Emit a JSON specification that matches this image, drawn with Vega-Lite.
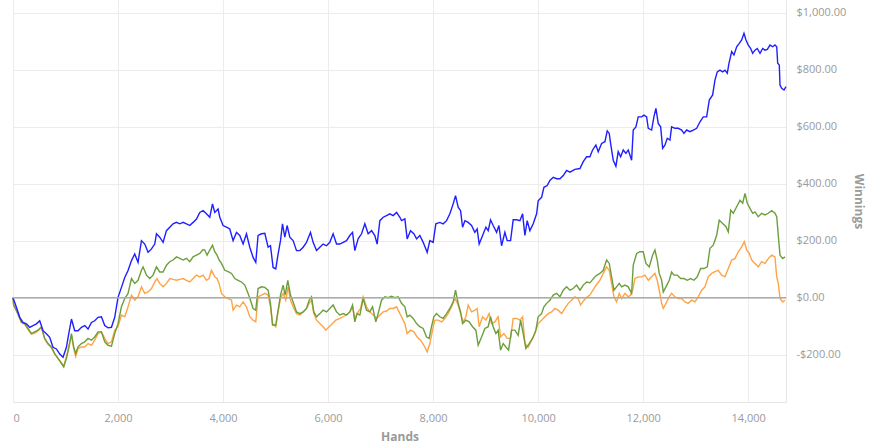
{
"$schema": "https://vega.github.io/schema/vega-lite/v6.json",
"width": 773, "height": 402,
"autosize": {"type": "none"},
"padding": {"left": 13, "top": 0, "right": 89, "bottom": 43},
"config": {"view": {"stroke": null}, "font": "Open Sans"},
"datasets": {
"orange": [{"h":0,"w":0},{"h":13,"w":-26},{"h":95,"w":-59},{"h":160,"w":-88},{"h":223,"w":-94},{"h":286,"w":-112},{"h":351,"w":-128},{"h":413,"w":-124},{"h":476,"w":-117},{"h":541,"w":-105},{"h":604,"w":-146},{"h":667,"w":-164},{"h":732,"w":-176},{"h":794,"w":-198},{"h":857,"w":-213},{"h":922,"w":-228},{"h":966,"w":-240},{"h":1017,"w":-207},{"h":1067,"w":-167},{"h":1113,"w":-132},{"h":1156,"w":-179},{"h":1194,"w":-207},{"h":1238,"w":-179},{"h":1303,"w":-173},{"h":1366,"w":-173},{"h":1429,"w":-161},{"h":1494,"w":-167},{"h":1556,"w":-149},{"h":1619,"w":-126},{"h":1684,"w":-120},{"h":1747,"w":-143},{"h":1810,"w":-161},{"h":1875,"w":-155},{"h":1937,"w":-114},{"h":2000,"w":-102},{"h":2065,"w":-61},{"h":2128,"w":-67},{"h":2191,"w":-32},{"h":2256,"w":9},{"h":2318,"w":-9},{"h":2381,"w":3},{"h":2446,"w":38},{"h":2509,"w":15},{"h":2572,"w":20},{"h":2637,"w":32},{"h":2699,"w":55},{"h":2743,"w":67},{"h":2794,"w":50},{"h":2858,"w":38},{"h":2922,"w":50},{"h":2985,"w":67},{"h":3048,"w":64},{"h":3113,"w":61},{"h":3176,"w":64},{"h":3239,"w":67},{"h":3303,"w":61},{"h":3366,"w":55},{"h":3429,"w":67},{"h":3494,"w":79},{"h":3557,"w":73},{"h":3620,"w":79},{"h":3684,"w":61},{"h":3734,"w":67},{"h":3779,"w":96},{"h":3842,"w":73},{"h":3886,"w":67},{"h":3924,"w":50},{"h":3970,"w":15},{"h":4033,"w":3},{"h":4096,"w":-3},{"h":4161,"w":-9},{"h":4191,"w":-44},{"h":4256,"w":-26},{"h":4318,"w":-32},{"h":4382,"w":-15},{"h":4446,"w":-32},{"h":4509,"w":-67},{"h":4572,"w":-79},{"h":4623,"w":-85},{"h":4667,"w":3},{"h":4732,"w":9},{"h":4795,"w":15},{"h":4858,"w":9},{"h":4903,"w":-32},{"h":4942,"w":-91},{"h":5004,"w":-102},{"h":5048,"w":-50},{"h":5094,"w":-3},{"h":5144,"w":15},{"h":5195,"w":-9},{"h":5239,"w":38},{"h":5284,"w":-9},{"h":5334,"w":-32},{"h":5399,"w":-56},{"h":5462,"w":-61},{"h":5525,"w":-50},{"h":5589,"w":-38},{"h":5639,"w":-20},{"h":5684,"w":-9},{"h":5728,"w":-56},{"h":5780,"w":-79},{"h":5843,"w":-91},{"h":5906,"w":-102},{"h":5957,"w":-114},{"h":6020,"w":-102},{"h":6085,"w":-91},{"h":6147,"w":-79},{"h":6224,"w":-73},{"h":6287,"w":-67},{"h":6351,"w":-61},{"h":6414,"w":-50},{"h":6466,"w":-32},{"h":6509,"w":-73},{"h":6572,"w":-50},{"h":6618,"w":-38},{"h":6668,"w":3},{"h":6732,"w":-32},{"h":6795,"w":-50},{"h":6858,"w":-61},{"h":6923,"w":-73},{"h":6986,"w":-61},{"h":7049,"w":-50},{"h":7113,"w":-47},{"h":7176,"w":-38},{"h":7239,"w":-38},{"h":7304,"w":-32},{"h":7367,"w":-56},{"h":7399,"w":-67},{"h":7462,"w":-91},{"h":7506,"w":-126},{"h":7570,"w":-114},{"h":7633,"w":-120},{"h":7696,"w":-138},{"h":7761,"w":-149},{"h":7824,"w":-167},{"h":7887,"w":-190},{"h":7938,"w":-161},{"h":7989,"w":-114},{"h":8033,"w":-79},{"h":8096,"w":-79},{"h":8161,"w":-85},{"h":8224,"w":-73},{"h":8287,"w":-56},{"h":8352,"w":-32},{"h":8414,"w":-3},{"h":8466,"w":-20},{"h":8523,"w":-56},{"h":8572,"w":-85},{"h":8624,"w":-67},{"h":8668,"w":-26},{"h":8732,"w":-50},{"h":8795,"w":-44},{"h":8839,"w":-38},{"h":8877,"w":-102},{"h":8942,"w":-67},{"h":9005,"w":-79},{"h":9068,"w":-56},{"h":9113,"w":-91},{"h":9176,"w":-85},{"h":9239,"w":-67},{"h":9285,"w":-138},{"h":9348,"w":-126},{"h":9411,"w":-143},{"h":9475,"w":-143},{"h":9525,"w":-73},{"h":9590,"w":-73},{"h":9653,"w":-79},{"h":9704,"w":-67},{"h":9748,"w":-161},{"h":9811,"w":-173},{"h":9876,"w":-149},{"h":9938,"w":-126},{"h":10001,"w":-91},{"h":10066,"w":-79},{"h":10129,"w":-67},{"h":10192,"w":-56},{"h":10256,"w":-50},{"h":10319,"w":-38},{"h":10382,"w":-44},{"h":10447,"w":-56},{"h":10510,"w":-38},{"h":10573,"w":-20},{"h":10637,"w":-9},{"h":10700,"w":3},{"h":10763,"w":-3},{"h":10809,"w":-26},{"h":10872,"w":-9},{"h":10935,"w":3},{"h":10986,"w":9},{"h":11090,"w":40},{"h":11176,"w":61},{"h":11240,"w":85},{"h":11304,"w":108},{"h":11354,"w":96},{"h":11399,"w":50},{"h":11443,"w":3},{"h":11494,"w":-15},{"h":11544,"w":15},{"h":11590,"w":-3},{"h":11653,"w":15},{"h":11716,"w":3},{"h":11761,"w":9},{"h":11799,"w":26},{"h":11843,"w":67},{"h":11906,"w":73},{"h":11971,"w":73},{"h":12034,"w":79},{"h":12097,"w":61},{"h":12161,"w":73},{"h":12224,"w":85},{"h":12268,"w":61},{"h":12306,"w":26},{"h":12352,"w":-20},{"h":12383,"w":-38},{"h":12434,"w":-20},{"h":12497,"w":3},{"h":12542,"w":15},{"h":12605,"w":3},{"h":12668,"w":-3},{"h":12733,"w":-3},{"h":12796,"w":-15},{"h":12859,"w":-20},{"h":12923,"w":-9},{"h":12986,"w":-15},{"h":13049,"w":3},{"h":13114,"w":26},{"h":13177,"w":38},{"h":13240,"w":73},{"h":13304,"w":85},{"h":13367,"w":91},{"h":13430,"w":96},{"h":13494,"w":79},{"h":13558,"w":73},{"h":13621,"w":102},{"h":13686,"w":132},{"h":13748,"w":137},{"h":13811,"w":161},{"h":13876,"w":178},{"h":13926,"w":196},{"h":13971,"w":167},{"h":14021,"w":155},{"h":14067,"w":132},{"h":14129,"w":120},{"h":14192,"w":108},{"h":14257,"w":126},{"h":14320,"w":120},{"h":14383,"w":137},{"h":14448,"w":149},{"h":14510,"w":143},{"h":14543,"w":73},{"h":14573,"w":50},{"h":14606,"w":-3},{"h":14657,"w":-15},{"h":14701,"w":-9}],
"green": [{"h":0,"w":0},{"h":13,"w":-26},{"h":95,"w":-56},{"h":160,"w":-85},{"h":223,"w":-91},{"h":286,"w":-108},{"h":351,"w":-126},{"h":413,"w":-120},{"h":476,"w":-114},{"h":541,"w":-102},{"h":604,"w":-143},{"h":667,"w":-161},{"h":732,"w":-173},{"h":794,"w":-196},{"h":857,"w":-213},{"h":922,"w":-231},{"h":966,"w":-243},{"h":1017,"w":-213},{"h":1067,"w":-173},{"h":1113,"w":-126},{"h":1156,"w":-173},{"h":1194,"w":-196},{"h":1238,"w":-173},{"h":1303,"w":-161},{"h":1366,"w":-155},{"h":1429,"w":-143},{"h":1494,"w":-149},{"h":1556,"w":-138},{"h":1619,"w":-120},{"h":1684,"w":-120},{"h":1747,"w":-155},{"h":1810,"w":-167},{"h":1875,"w":-170},{"h":1937,"w":-126},{"h":2000,"w":-91},{"h":2065,"w":-32},{"h":2128,"w":-3},{"h":2191,"w":15},{"h":2256,"w":67},{"h":2318,"w":50},{"h":2381,"w":61},{"h":2446,"w":96},{"h":2477,"w":108},{"h":2541,"w":79},{"h":2604,"w":67},{"h":2667,"w":79},{"h":2732,"w":108},{"h":2794,"w":90},{"h":2858,"w":90},{"h":2922,"w":114},{"h":2985,"w":126},{"h":3048,"w":132},{"h":3113,"w":143},{"h":3176,"w":138},{"h":3239,"w":132},{"h":3303,"w":138},{"h":3366,"w":126},{"h":3429,"w":143},{"h":3494,"w":149},{"h":3557,"w":155},{"h":3620,"w":169},{"h":3652,"w":167},{"h":3696,"w":149},{"h":3747,"w":167},{"h":3799,"w":184},{"h":3842,"w":161},{"h":3886,"w":149},{"h":3924,"w":132},{"h":3970,"w":120},{"h":4033,"w":96},{"h":4096,"w":91},{"h":4161,"w":85},{"h":4223,"w":67},{"h":4286,"w":61},{"h":4351,"w":55},{"h":4414,"w":44},{"h":4477,"w":15},{"h":4522,"w":-9},{"h":4572,"w":-38},{"h":4623,"w":-44},{"h":4667,"w":32},{"h":4732,"w":38},{"h":4795,"w":36},{"h":4858,"w":26},{"h":4903,"w":-20},{"h":4942,"w":-96},{"h":5004,"w":-96},{"h":5048,"w":-44},{"h":5094,"w":9},{"h":5144,"w":44},{"h":5182,"w":9},{"h":5233,"w":61},{"h":5284,"w":9},{"h":5334,"w":-15},{"h":5399,"w":-50},{"h":5462,"w":-56},{"h":5525,"w":-50},{"h":5589,"w":-38},{"h":5639,"w":-9},{"h":5684,"w":3},{"h":5728,"w":-50},{"h":5780,"w":-67},{"h":5843,"w":-56},{"h":5906,"w":-44},{"h":5970,"w":-50},{"h":6033,"w":-38},{"h":6096,"w":-26},{"h":6161,"w":-50},{"h":6224,"w":-61},{"h":6287,"w":-56},{"h":6351,"w":-61},{"h":6414,"w":-50},{"h":6466,"w":-26},{"h":6509,"w":-85},{"h":6553,"w":-56},{"h":6605,"w":-61},{"h":6668,"w":-3},{"h":6732,"w":-44},{"h":6795,"w":-50},{"h":6847,"w":-32},{"h":6909,"w":-85},{"h":6953,"w":-56},{"h":7018,"w":-9},{"h":7081,"w":3},{"h":7144,"w":0},{"h":7208,"w":5},{"h":7271,"w":0},{"h":7334,"w":3},{"h":7399,"w":-20},{"h":7462,"w":-32},{"h":7506,"w":-67},{"h":7557,"w":-61},{"h":7620,"w":-73},{"h":7685,"w":-91},{"h":7747,"w":-102},{"h":7811,"w":-108},{"h":7875,"w":-138},{"h":7925,"w":-143},{"h":7970,"w":-102},{"h":8014,"w":-67},{"h":8066,"w":-56},{"h":8128,"w":-67},{"h":8191,"w":-73},{"h":8256,"w":-56},{"h":8319,"w":-38},{"h":8382,"w":-15},{"h":8427,"w":26},{"h":8477,"w":-20},{"h":8523,"w":-50},{"h":8561,"w":-91},{"h":8624,"w":-79},{"h":8687,"w":-85},{"h":8751,"w":-102},{"h":8814,"w":-114},{"h":8858,"w":-167},{"h":8923,"w":-138},{"h":8986,"w":-108},{"h":9049,"w":-102},{"h":9094,"w":-67},{"h":9144,"w":-102},{"h":9195,"w":-126},{"h":9239,"w":-114},{"h":9285,"w":-184},{"h":9335,"w":-161},{"h":9386,"w":-173},{"h":9437,"w":-184},{"h":9494,"w":-114},{"h":9557,"w":-114},{"h":9620,"w":-132},{"h":9666,"w":-79},{"h":9716,"w":-126},{"h":9767,"w":-178},{"h":9830,"w":-161},{"h":9894,"w":-143},{"h":9957,"w":-114},{"h":10001,"w":-67},{"h":10066,"w":-56},{"h":10110,"w":-32},{"h":10161,"w":-20},{"h":10224,"w":-9},{"h":10287,"w":9},{"h":10352,"w":15},{"h":10415,"w":3},{"h":10478,"w":26},{"h":10542,"w":38},{"h":10605,"w":26},{"h":10668,"w":32},{"h":10733,"w":44},{"h":10796,"w":26},{"h":10859,"w":44},{"h":10923,"w":55},{"h":10986,"w":52},{"h":11090,"w":75},{"h":11176,"w":85},{"h":11240,"w":96},{"h":11304,"w":132},{"h":11354,"w":120},{"h":11399,"w":73},{"h":11443,"w":26},{"h":11494,"w":38},{"h":11544,"w":50},{"h":11590,"w":38},{"h":11653,"w":44},{"h":11716,"w":38},{"h":11780,"w":15},{"h":11811,"w":114},{"h":11876,"w":155},{"h":11938,"w":161},{"h":12002,"w":161},{"h":12053,"w":120},{"h":12116,"w":108},{"h":12180,"w":149},{"h":12224,"w":167},{"h":12268,"w":132},{"h":12306,"w":85},{"h":12352,"w":61},{"h":12383,"w":20},{"h":12434,"w":38},{"h":12497,"w":61},{"h":12542,"w":90},{"h":12586,"w":79},{"h":12649,"w":79},{"h":12714,"w":67},{"h":12777,"w":67},{"h":12840,"w":61},{"h":12904,"w":67},{"h":12967,"w":61},{"h":13030,"w":73},{"h":13095,"w":102},{"h":13158,"w":102},{"h":13221,"w":108},{"h":13272,"w":173},{"h":13335,"w":184},{"h":13400,"w":219},{"h":13449,"w":272},{"h":13514,"w":260},{"h":13577,"w":249},{"h":13621,"w":231},{"h":13667,"w":307},{"h":13716,"w":296},{"h":13781,"w":319},{"h":13844,"w":342},{"h":13895,"w":331},{"h":13939,"w":366},{"h":13983,"w":331},{"h":14034,"w":313},{"h":14086,"w":296},{"h":14129,"w":301},{"h":14192,"w":284},{"h":14257,"w":296},{"h":14320,"w":290},{"h":14383,"w":296},{"h":14448,"w":305},{"h":14510,"w":296},{"h":14543,"w":284},{"h":14573,"w":219},{"h":14606,"w":149},{"h":14657,"w":137},{"h":14701,"w":143}],
"blue": [{"h":0,"w":0},{"h":65,"w":-34},{"h":128,"w":-69},{"h":190,"w":-87},{"h":255,"w":-92},{"h":318,"w":-104},{"h":381,"w":-98},{"h":446,"w":-92},{"h":509,"w":-81},{"h":572,"w":-116},{"h":636,"w":-127},{"h":699,"w":-139},{"h":762,"w":-174},{"h":827,"w":-180},{"h":890,"w":-198},{"h":953,"w":-209},{"h":1017,"w":-174},{"h":1061,"w":-127},{"h":1113,"w":-75},{"h":1175,"w":-116},{"h":1238,"w":-116},{"h":1303,"w":-104},{"h":1366,"w":-98},{"h":1429,"w":-110},{"h":1494,"w":-87},{"h":1556,"w":-81},{"h":1619,"w":-69},{"h":1684,"w":-67},{"h":1747,"w":-98},{"h":1810,"w":-106},{"h":1875,"w":-104},{"h":1937,"w":-69},{"h":2000,"w":1},{"h":2065,"w":36},{"h":2128,"w":71},{"h":2191,"w":95},{"h":2256,"w":130},{"h":2318,"w":153},{"h":2381,"w":124},{"h":2446,"w":200},{"h":2509,"w":188},{"h":2572,"w":159},{"h":2637,"w":171},{"h":2699,"w":188},{"h":2732,"w":224},{"h":2794,"w":212},{"h":2858,"w":194},{"h":2922,"w":235},{"h":2985,"w":247},{"h":3048,"w":259},{"h":3113,"w":264},{"h":3176,"w":259},{"h":3239,"w":264},{"h":3303,"w":259},{"h":3366,"w":253},{"h":3429,"w":264},{"h":3494,"w":276},{"h":3557,"w":299},{"h":3620,"w":305},{"h":3684,"w":294},{"h":3747,"w":282},{"h":3799,"w":329},{"h":3842,"w":299},{"h":3905,"w":311},{"h":3938,"w":282},{"h":4001,"w":253},{"h":4065,"w":247},{"h":4128,"w":241},{"h":4191,"w":200},{"h":4256,"w":229},{"h":4318,"w":218},{"h":4382,"w":188},{"h":4446,"w":224},{"h":4509,"w":177},{"h":4572,"w":141},{"h":4623,"w":124},{"h":4667,"w":218},{"h":4732,"w":224},{"h":4795,"w":226},{"h":4858,"w":177},{"h":4903,"w":182},{"h":4953,"w":106},{"h":5004,"w":101},{"h":5048,"w":153},{"h":5094,"w":200},{"h":5132,"w":259},{"h":5176,"w":212},{"h":5220,"w":253},{"h":5271,"w":212},{"h":5334,"w":200},{"h":5399,"w":165},{"h":5462,"w":165},{"h":5525,"w":177},{"h":5589,"w":194},{"h":5665,"w":229},{"h":5715,"w":194},{"h":5780,"w":165},{"h":5843,"w":177},{"h":5906,"w":188},{"h":5970,"w":182},{"h":6033,"w":194},{"h":6096,"w":224},{"h":6161,"w":188},{"h":6224,"w":188},{"h":6287,"w":194},{"h":6351,"w":200},{"h":6414,"w":218},{"h":6466,"w":229},{"h":6509,"w":165},{"h":6572,"w":206},{"h":6637,"w":224},{"h":6700,"w":259},{"h":6763,"w":224},{"h":6828,"w":235},{"h":6890,"w":218},{"h":6934,"w":188},{"h":6986,"w":270},{"h":7049,"w":282},{"h":7113,"w":288},{"h":7176,"w":294},{"h":7239,"w":288},{"h":7304,"w":299},{"h":7367,"w":282},{"h":7399,"w":270},{"h":7462,"w":276},{"h":7506,"w":206},{"h":7570,"w":235},{"h":7633,"w":224},{"h":7685,"w":206},{"h":7747,"w":218},{"h":7811,"w":194},{"h":7887,"w":159},{"h":7938,"w":200},{"h":8001,"w":194},{"h":8052,"w":259},{"h":8128,"w":264},{"h":8191,"w":259},{"h":8256,"w":270},{"h":8319,"w":294},{"h":8382,"w":329},{"h":8427,"w":358},{"h":8477,"w":317},{"h":8523,"w":305},{"h":8561,"w":247},{"h":8605,"w":270},{"h":8668,"w":264},{"h":8732,"w":253},{"h":8795,"w":229},{"h":8839,"w":241},{"h":8877,"w":188},{"h":8942,"w":218},{"h":9005,"w":247},{"h":9049,"w":235},{"h":9094,"w":273},{"h":9144,"w":253},{"h":9209,"w":229},{"h":9253,"w":253},{"h":9304,"w":182},{"h":9367,"w":229},{"h":9411,"w":200},{"h":9475,"w":200},{"h":9525,"w":273},{"h":9590,"w":273},{"h":9653,"w":270},{"h":9704,"w":294},{"h":9748,"w":218},{"h":9792,"w":270},{"h":9843,"w":235},{"h":9906,"w":259},{"h":9971,"w":294},{"h":10001,"w":340},{"h":10066,"w":352},{"h":10110,"w":387},{"h":10173,"w":393},{"h":10224,"w":411},{"h":10287,"w":422},{"h":10352,"w":417},{"h":10415,"w":417},{"h":10478,"w":428},{"h":10542,"w":446},{"h":10605,"w":440},{"h":10700,"w":450},{"h":10796,"w":453},{"h":10859,"w":477},{"h":10923,"w":494},{"h":10986,"w":494},{"h":11037,"w":518},{"h":11100,"w":535},{"h":11144,"w":512},{"h":11209,"w":541},{"h":11272,"w":547},{"h":11316,"w":585},{"h":11354,"w":576},{"h":11380,"w":541},{"h":11430,"w":482},{"h":11481,"w":461},{"h":11525,"w":512},{"h":11571,"w":494},{"h":11621,"w":518},{"h":11672,"w":506},{"h":11716,"w":518},{"h":11780,"w":482},{"h":11811,"w":588},{"h":11862,"w":599},{"h":11906,"w":634},{"h":11971,"w":634},{"h":12015,"w":640},{"h":12066,"w":634},{"h":12097,"w":594},{"h":12161,"w":588},{"h":12205,"w":634},{"h":12243,"w":664},{"h":12287,"w":611},{"h":12333,"w":599},{"h":12371,"w":524},{"h":12414,"w":535},{"h":12459,"w":559},{"h":12510,"w":553},{"h":12542,"w":599},{"h":12605,"w":594},{"h":12668,"w":594},{"h":12733,"w":588},{"h":12777,"w":576},{"h":12828,"w":588},{"h":12891,"w":582},{"h":12954,"w":588},{"h":13019,"w":594},{"h":13082,"w":617},{"h":13145,"w":634},{"h":13209,"w":634},{"h":13259,"w":693},{"h":13323,"w":711},{"h":13367,"w":763},{"h":13411,"w":792},{"h":13462,"w":798},{"h":13514,"w":792},{"h":13558,"w":798},{"h":13602,"w":787},{"h":13634,"w":822},{"h":13686,"w":863},{"h":13729,"w":851},{"h":13781,"w":880},{"h":13830,"w":892},{"h":13876,"w":904},{"h":13920,"w":927},{"h":13958,"w":904},{"h":14002,"w":886},{"h":14047,"w":874},{"h":14086,"w":857},{"h":14129,"w":868},{"h":14173,"w":874},{"h":14225,"w":857},{"h":14276,"w":874},{"h":14320,"w":868},{"h":14364,"w":871},{"h":14415,"w":886},{"h":14467,"w":880},{"h":14510,"w":886},{"h":14543,"w":880},{"h":14562,"w":822},{"h":14592,"w":816},{"h":14606,"w":746},{"h":14638,"w":734},{"h":14682,"w":728},{"h":14720,"w":740}]
},
"layer": [
{
"data": {"name": "orange"},
"mark": {"type": "line", "color": "#ffa445", "strokeWidth": 1.4, "interpolate": "linear"},
"encoding": {
"x": {"field": "h", "type": "quantitative",
"scale": {"domain": [0, 14720], "nice": false, "zero": false},
"axis": {"title": "Hands", "values": [0,2000,4000,6000,8000,10000,12000,14000], "format": ",d",
"labelColor": "#9a9a9a", "labelFontSize": 11, "ticks": false, "domainColor": "#e6e6e6",
"gridColor": "#ececec", "labelPadding": 10, "titleColor": "#9a9a9a", "titleFontSize": 12,
"titleFontWeight": "bold", "titlePadding": 8}},
"y": {"field": "w", "type": "quantitative",
"scale": {"domain": [-366, 1044], "nice": false, "zero": false},
"axis": {"orient": "right", "title": "Winnings", "values": [-200,0,200,400,600,800,1000],
"labelExpr": "datum.value < 0 ? '-$' + format(-datum.value, ',.2f') : '$' + format(datum.value, ',.2f')",
"labelColor": "#9a9a9a", "labelFontSize": 11, "ticks": false, "domainColor": "#e6e6e6",
"gridColor": "#ececec", "labelPadding": 10, "titleColor": "#9a9a9a", "titleFontSize": 12,
"titleFontWeight": "bold", "titlePadding": 6}}
}
},
{
"data": {"name": "green"},
"mark": {"type": "line", "color": "#6d9e3c", "strokeWidth": 1.4},
"encoding": {"x": {"field": "h", "type": "quantitative"}, "y": {"field": "w", "type": "quantitative"}}
},
{
"data": {"name": "blue"},
"mark": {"type": "line", "color": "#1f1fff", "strokeWidth": 1.4},
"encoding": {"x": {"field": "h", "type": "quantitative"}, "y": {"field": "w", "type": "quantitative"}}
},
{
"data": {"values": [{"z": 0}]},
"mark": {"type": "rule", "color": "#ababab", "strokeWidth": 1.5},
"encoding": {"y": {"field": "z", "type": "quantitative"}}
}
]
}
